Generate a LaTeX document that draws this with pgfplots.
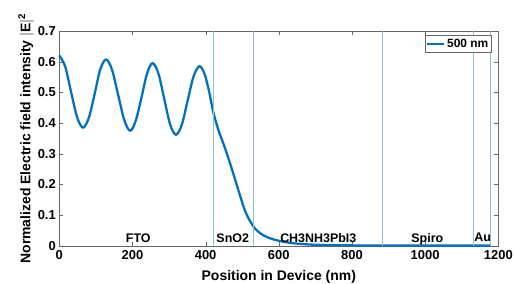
\documentclass[border=0pt]{standalone}
\usepackage{pgfplots}
\pgfplotsset{compat=1.18}
\usepackage{fontspec}
\setmainfont{Liberation Sans}
\definecolor{mblue}{HTML}{0072BD}
\definecolor{lineblue}{HTML}{8CC3D6}
\begin{document}
\begin{tikzpicture}
\begin{axis}[
  scale only axis,
  width=439bp, height=214.7bp,
  xmin=0, xmax=1200, ymin=0, ymax=0.7,
  xtick={0,200,...,1200},
  ytick={0,0.1,...,0.7},
  yticklabels={0,0.1,0.2,0.3,0.4,0.5,0.6,0.7},
  xticklabels={0,200,400,600,800,1000,1200},
  tick align=inside,
  major tick length=4bp,
  axis line style={draw=black!60},
  tick style={draw=black!60},
  /pgf/number format/assume math mode=true,
  tick label style={font=\bfseries\fontsize{13}{14}\selectfont},
  xticklabel style={yshift=-1bp},
  xlabel={\bfseries Position in Device (nm)},
  ylabel={\bfseries Normalized Electric field intensity $\mathbf{|E|^2}$},
  label style={font=\bfseries\fontsize{14}{15}\selectfont},
  xlabel style={yshift=-4bp},
  ylabel style={yshift=-3bp},
  legend style={at={(0.985,0.98)}, anchor=north east, font=\bfseries\fontsize{12}{13}\selectfont, draw=black!60, inner sep=1.2bp},
  legend cell align=left,
  legend image post style={line width=2pt},
  clip=false,
]
\addplot[mblue, line width=2.3pt, smooth, tension=0.55] coordinates {
(0,0.620) (16,0.585) (32,0.502) (49,0.418) (65,0.385) (81,0.418) (97,0.497)
(112,0.575) (128,0.607) (144,0.574) (161,0.491) (178,0.408) (194,0.375)
(209,0.408) (225,0.485) (240,0.562) (255,0.595) (271,0.561) (287,0.478)
(303,0.395) (319,0.362) (335,0.395) (351,0.474) (367,0.552) (383,0.585)
(397,0.560) (410,0.500) (421,0.435) (435,0.377) (450,0.328) (465,0.275)
(480,0.218) (495,0.160) (510,0.107) (531,0.062) (550,0.040) (570,0.027)
(600,0.016) (640,0.008) (700,0.003) (800,0.001) (900,0.0005) (1000,0.0003) (1100,0.0002) (1180,0.0002)
};
\addlegendentry{500 nm}
\draw[lineblue, line width=0.6pt] (axis cs:421,0) -- (axis cs:421,0.7);
\draw[lineblue, line width=0.6pt] (axis cs:531,0) -- (axis cs:531,0.7);
\draw[lineblue, line width=0.6pt] (axis cs:882,0) -- (axis cs:882,0.7);
\draw[lineblue, line width=0.6pt] (axis cs:1132,0) -- (axis cs:1132,0.7);
\draw[lineblue, line width=0.6pt] (axis cs:1179,0) -- (axis cs:1179,0.7);
\begin{scope}[font=\bfseries\fontsize{12.5}{13}\selectfont, inner sep=0pt]
\node at (axis cs:216,0.024) {FTO};
\node at (axis cs:474,0.024) {SnO2};
\node at (axis cs:708,0.026) {CH3NH3PbI3};
\node at (axis cs:1006,0.020) {Spiro};
\node at (axis cs:1157,0.026) {Au};
\end{scope}
\coordinate (bbsw) at ([xshift=-59.3bp,yshift=-38.3bp]rel axis cs:0,0);
\coordinate (bbne) at ([xshift=15.7bp,yshift=31bp]rel axis cs:1,1);
\end{axis}
\pgfresetboundingbox
\path (bbsw) rectangle (bbne);
\end{tikzpicture}
\end{document}
